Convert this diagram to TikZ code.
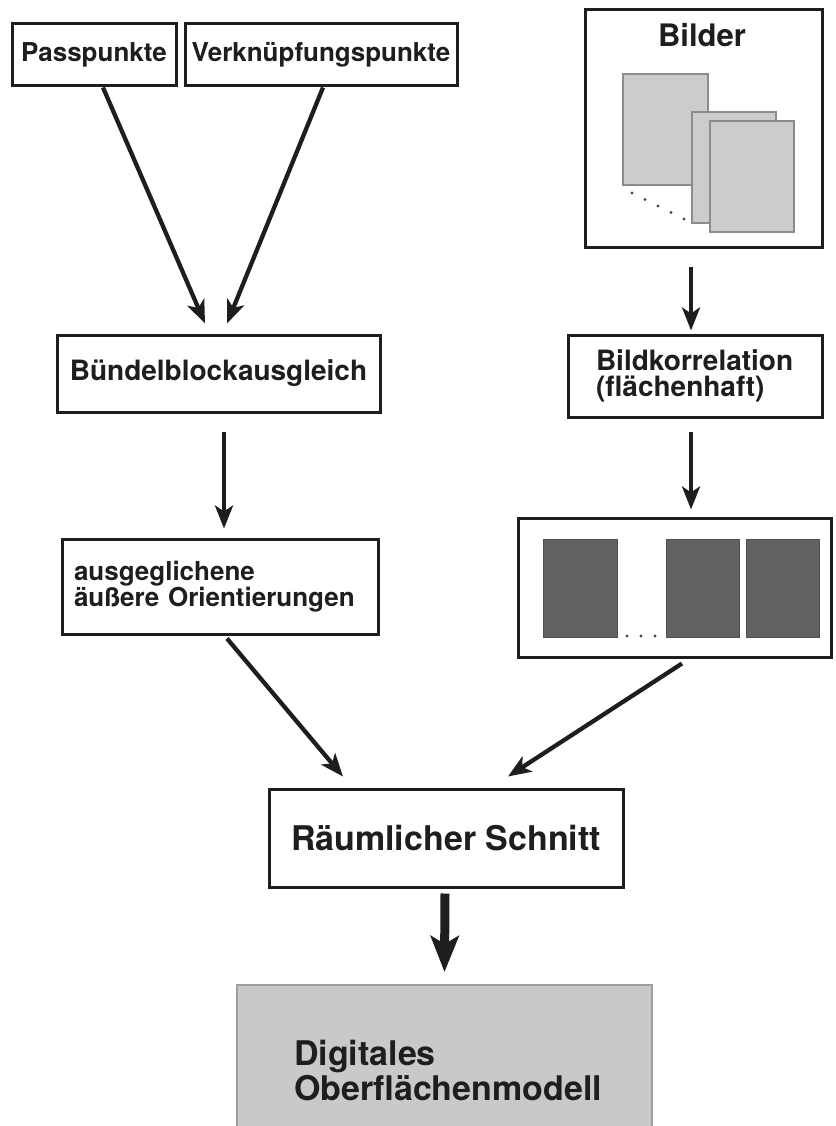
\documentclass[tikz,border=0pt]{standalone}
\usepackage{fontspec}
\setmainfont{TeX Gyre Heros}
\usetikzlibrary{arrows.meta}
\definecolor{ink}{HTML}{1E1E1E}
\definecolor{photolight}{HTML}{CCCCCC}
\definecolor{photoedge}{HTML}{8C8C8C}
\definecolor{photodark}{HTML}{626262}
\definecolor{resultfill}{HTML}{C9C9C9}
\definecolor{resultedge}{HTML}{9E9E9E}
\begin{document}
\begin{tikzpicture}[x=1pt,y=-1pt,
  box/.style={draw=ink, line width=3pt, fill=white, inner sep=0pt, text=ink,
              font=\bfseries\fontsize{26}{26}\selectfont},
  leftbox/.style={box, align=left},
  midfont/.style={font=\bfseries\fontsize{28}{26}\selectfont},
  bigfont/.style={font=\bfseries\fontsize{34}{35}\selectfont},
  arr/.style={draw=ink, line width=4.3pt, -{Stealth[length=23pt,width=18pt,inset=6pt]}},
  bigarr/.style={draw=ink, line width=9pt, -{Stealth[length=36pt,width=28pt,inset=8pt]}},
  photo/.style={draw=photoedge, line width=1.3pt, fill=photolight},
  darkphoto/.style={draw=photodark!80!black, line width=1pt, fill=photodark},
]
\useasboundingbox (0,0) rectangle (835,1126);
\clip (0,0) rectangle (835,1126);

% input point sets
\node[box, minimum width=164pt, minimum height=62pt] (pass) at (94,55) {Passpunkte};
\node[box, minimum width=272pt, minimum height=62pt] (verk) at (321,55) {Verknüpfungspunkte};

% image stack
\node[box, minimum width=237pt, minimum height=237pt] (bilder) at (703.5,128.5) {};
\node[text=ink, font=\bfseries\fontsize{31}{31}\selectfont, anchor=base, inner sep=0pt] (bildertitle) at (702,47) {Bilder};
\draw[photo] (623,74) rectangle (708,185);
\draw[photo] (692,112) rectangle (776,223);
\draw[photo] (710,121) rectangle (794,232);
\foreach \t in {0,...,4}
  \fill[ink!80] (632+13*\t,193+6.5*\t) circle (1.6);

% bundle adjustment branch
\node[box, midfont, minimum width=323pt, minimum height=77pt] (buendel) at (218.5,373.5) {Bündelblockausgleich};
\node[leftbox, minimum height=95pt, text width=292pt, inner xsep=12pt] (ausg) at (220,586.5)
  {\mbox{ausgeglichene}\\\mbox{äußere Orientierungen}};

% image matching branch
\node[leftbox, midfont, minimum height=82pt, text width=198pt, inner xsep=28pt] (bildkorr) at (695,376)
  {\mbox{Bildkorrelation}\\\mbox{(flächenhaft)}};
\node[box, minimum width=313pt, minimum height=139pt] (dark) at (674.5,587.5) {};
\draw[darkphoto] (543,539) rectangle (617,637);
\draw[darkphoto] (666,539) rectangle (739,637);
\draw[darkphoto] (746,539) rectangle (819,637);
\foreach \x in {627,641,655}
  \fill[ink!80] (\x,636) circle (1.6);

% intersection and result
\node[box, bigfont, minimum width=354pt, minimum height=98pt] (raeuml) at (446,838) {Räumlicher Schnitt};
\node[leftbox, bigfont, draw=resultedge, line width=2pt, fill=resultfill, minimum height=150pt,
      text width=301pt, inner xsep=57pt, text depth=14pt] (dom) at (444.5,1060)
  {\mbox{Digitales}\\\mbox{Oberflächenmodell}};

% connectors
\draw[arr] ([xshift=9pt]pass.south) -- ([xshift=-13.5pt,yshift=10pt]buendel.north);
\draw[arr] ([xshift=2pt]verk.south) -- ([xshift=8.5pt,yshift=10pt]buendel.north);
\draw[arr] ([xshift=5.5pt,yshift=-18pt]buendel.south) -- ([xshift=5.5pt,yshift=9pt]buendel.south |- ausg.north);
\draw[arr] ([xshift=-12.5pt,yshift=-18pt]bilder.south) -- ([xshift=-4pt,yshift=3pt]bildkorr.north);
\draw[arr] ([xshift=-4pt,yshift=-13pt]bildkorr.south) -- ([xshift=16.5pt,yshift=7pt]dark.north);
\draw[arr] ([xshift=7pt,yshift=-3pt]ausg.south) -- ([xshift=-103pt,yshift=11pt]raeuml.north);
\draw[arr] ([xshift=7.5pt,yshift=-5pt]dark.south) -- ([xshift=62pt,yshift=11pt]raeuml.north);
\draw[bigarr] ([xshift=-1pt,yshift=-5pt]raeuml.south) -- ([yshift=12pt]dom.north);
\end{tikzpicture}
\end{document}
